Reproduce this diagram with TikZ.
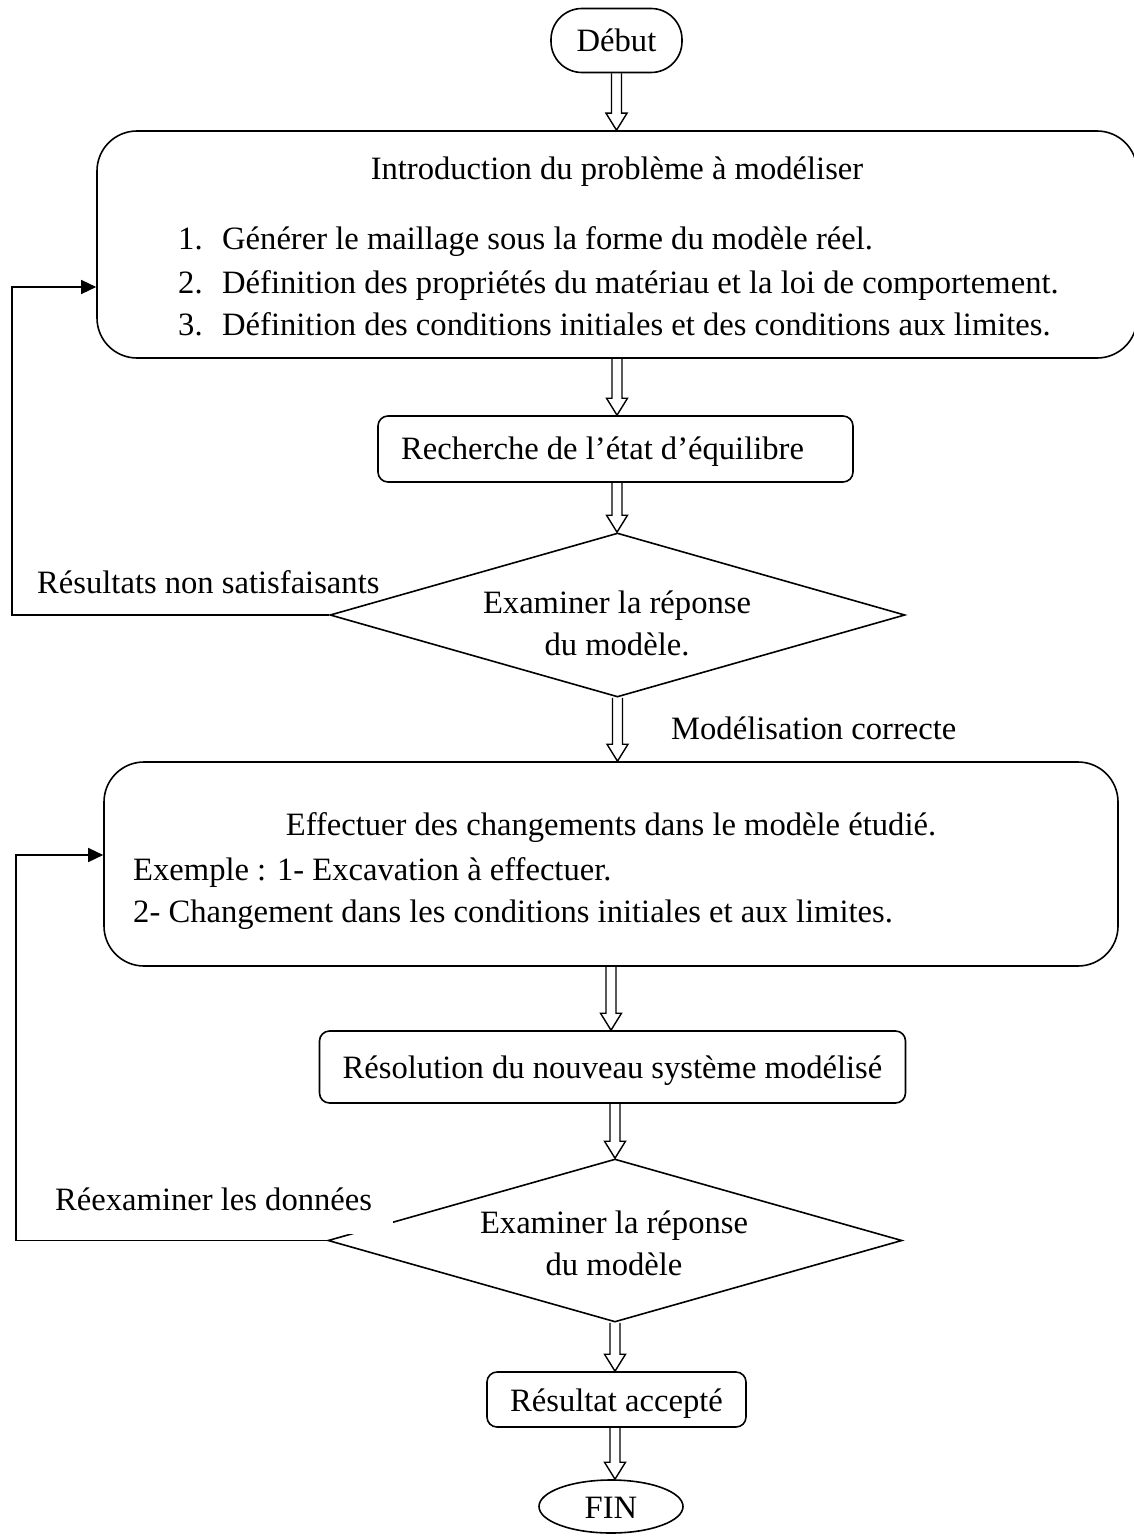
\documentclass[tikz,border=0pt]{standalone}
\usepackage{fontspec}
\setmainfont{Liberation Serif}
\usetikzlibrary{shapes.geometric,arrows.meta,calc}
\newcommand\hollowarrow[2]{%
  \draw[harrow] let \p1=(#1), \p2=(#2) in
    (\x1-5pt,\y1) -- (\x1-5pt,\y2+17pt) -- (\x1-10.5pt,\y2+17pt) -- (\x1,\y2)
    -- (\x1+10.5pt,\y2+17pt) -- (\x1+5pt,\y2+17pt) -- (\x1+5pt,\y1);}
\begin{document}
\begin{tikzpicture}[x=1pt,y=-1pt,
  every node/.style={font=\fontsize{32.6}{42}\selectfont, inner sep=0pt},
  boxline/.style={draw, line width=1.6pt, rectangle},
  bigbox/.style={boxline, rounded corners=40pt},
  smallbox/.style={boxline, rounded corners=10pt},
  decision/.style={draw, line width=1.6pt, diamond},
  txt/.style={anchor=base},
  ltxt/.style={anchor=base west},
  harrow/.style={line width=1.4pt, line join=miter},
  fbline/.style={line width=1.4pt, -{Triangle[length=15pt,width=14pt]}}
]
\useasboundingbox (0,0) rectangle (1133,1538);

% nodes
\node[boxline, rounded corners=31pt, minimum width=131pt, minimum height=64pt] (debut) at (616.5,40.5) {};
\node[txt] (tdebut) at (616.5,52) {Début};

\node[bigbox, minimum width=1040pt, minimum height=227pt] (box1) at (617,244.5) {};
\node[txt] (t1) at (617,180) {Introduction du problème à modéliser};
\node[ltxt] (n11) at (178,250) {1.};
\node[ltxt] (t11) at (222,250) {Générer le maillage sous la forme du modèle réel.};
\node[ltxt] (n12) at (178,293) {2.};
\node[ltxt] (t12) at (222,293) {Définition des propriétés du matériau et la loi de comportement.};
\node[ltxt] (n13) at (178,335) {3.};
\node[ltxt] (t13) at (222,335) {Définition des conditions initiales et des conditions aux limites.};

\node[smallbox, minimum width=475pt, minimum height=66pt] (rech) at (615.5,449) {};
\node[ltxt] (trech) at (401,459) {Recherche de l’état d’équilibre};

\node[decision, minimum width=575pt, minimum height=164pt] (d1) at (617.5,615) {};
\node[txt] (td1a) at (617,613) {Examiner la réponse};
\node[txt] (td1b) at (617,655) {du modèle.};
\node[ltxt] (lab1) at (37,593) {Résultats non satisfaisants};
\node[ltxt] (lab2) at (671,739) {Modélisation correcte};

\node[bigbox, minimum width=1014pt, minimum height=204pt] (box3) at (611,864) {};
\node[txt] (t3) at (611,835) {Effectuer des changements dans le modèle étudié.};
\node[ltxt] (t31) at (133,880) {Exemple : 1- Excavation à effectuer.};
\node[ltxt] (t32) at (133,922) {2- Changement dans les conditions initiales et aux limites.};

\node[smallbox, minimum width=586pt, minimum height=72pt] (reso) at (612.5,1067) {};
\node[txt] (treso) at (612.5,1078) {Résolution du nouveau système modélisé};

\node[decision, minimum width=574pt, minimum height=163pt] (d2) at (615,1240.5) {};
\node[ltxt, fill=white, inner xsep=21pt, inner ysep=24pt] (lab3) at (34,1210) {Réexaminer les données};
\node[txt] (td2a) at (614,1233) {Examiner la réponse};
\node[txt] (td2b) at (614,1275) {du modèle};

\node[smallbox, minimum width=259pt, minimum height=55pt] (res) at (616.5,1399.5) {};
\node[txt] (tres) at (616.5,1411) {Résultat accepté};

\node[draw, line width=1.6pt, ellipse, minimum width=144pt, minimum height=53pt] (fin) at (611,1506.5) {};
\node[txt] (tfin) at (611,1518) {FIN};

% hollow arrows
\hollowarrow{debut.south}{debut.south |- box1.north}
\hollowarrow{box1.south}{box1.south |- rech.north}
\hollowarrow{box1.south |- rech.south}{d1.north}
\hollowarrow{d1.south}{d1.south |- box3.north}
\hollowarrow{box3.south}{box3.south |- reso.north}
\hollowarrow{d2.north |- reso.south}{d2.north}
\hollowarrow{d2.south}{d2.south |- res.north}
\hollowarrow{d2.south |- res.south}{d2.south |- fin.north}

% feedback loops
\coordinate (fb1) at (12,287);
\coordinate (fb2) at (16,855);
\draw[fbline] (d1.west) -| (fb1) -- (fb1 -| box1.west);
\draw[fbline] (d2.west) -| (fb2) -- (fb2 -| box3.west);
\end{tikzpicture}
\end{document}
